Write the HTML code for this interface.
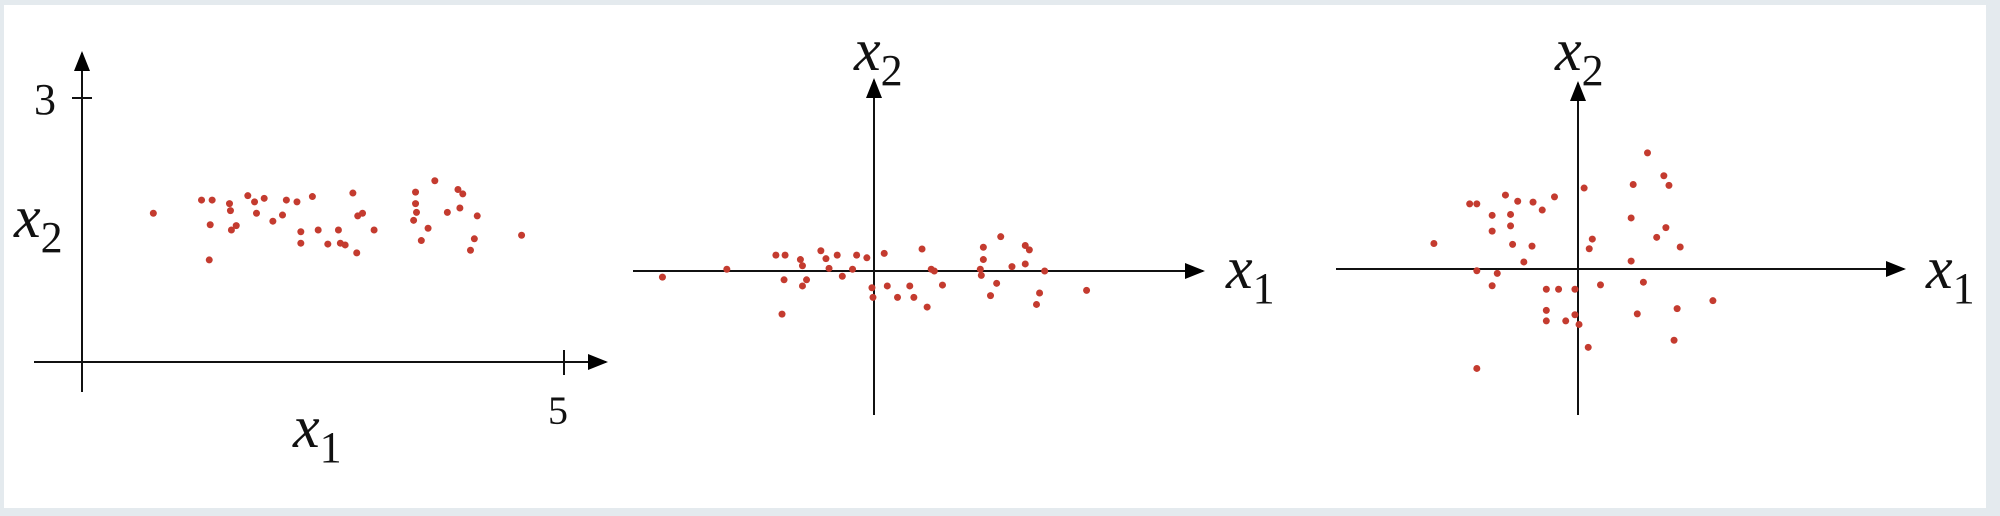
<!DOCTYPE html>
<html><head><meta charset="utf-8"><style>
html,body{margin:0;padding:0;background:#e6ecef;}
svg{display:block;}
text{font-family:"Liberation Serif",serif;fill:#111;}
</style></head><body>
<svg id="chart" width="2000" height="516" xmlns="http://www.w3.org/2000/svg">
<rect x="0" y="0" width="2000" height="516" fill="#e4eaee"/>
<rect x="4" y="5" width="1982" height="503" fill="#ffffff"/>
<defs><marker id="arr" markerWidth="20" markerHeight="16" refX="18" refY="8" orient="auto" markerUnits="userSpaceOnUse" viewBox="0 0 20 16"><path d="M0,0 L20,8 L0,16 z" fill="#000"/></marker></defs>
<g id="p1"></g>
<g id="p2"></g>
<g id="p3"></g>
</svg>
<script>
// Panel 1: raw data (x1 in 0..5, x2 in 0..3)
const p1X = [0.74,1.24,1.35,1.53,1.54,1.33,1.32,1.55,1.60,1.72,1.79,1.81,1.89,1.98,2.08,2.12,2.23,2.39,2.27,2.27,2.45,2.55,2.66,2.68,2.73,2.85,2.81,2.86,2.91,3.03,3.46,3.46,3.47,3.44,3.59,3.52,3.66,3.90,3.95,3.79,3.92,4.10,4.07,4.03,4.56];
const p1Y = [1.69,1.84,1.84,1.80,1.72,1.56,1.16,1.50,1.55,1.89,1.82,1.69,1.86,1.60,1.67,1.84,1.82,1.88,1.48,1.35,1.50,1.34,1.50,1.35,1.33,1.24,1.92,1.66,1.69,1.50,1.93,1.80,1.70,1.61,1.52,1.38,2.06,1.96,1.91,1.70,1.75,1.66,1.40,1.27,1.44];
// Panel 2: mean subtracted
const p2X = [-2.07,-1.44,-0.96,-0.87,-0.88,-0.90,-0.72,-0.70,-0.66,-0.70,-0.52,-0.47,-0.44,-0.36,-0.31,-0.21,-0.17,-0.07,0.10,-0.02,-0.01,0.13,0.23,0.35,0.39,0.52,0.47,0.56,0.59,0.67,1.07,1.07,1.05,1.04,1.20,1.14,1.24,1.48,1.52,1.35,1.48,1.67,1.62,1.59,2.08];
const p2Y = [-0.07,0.02,0.18,0.18,-0.10,-0.49,0.13,0.06,-0.10,-0.17,0.23,0.14,0.03,0.18,-0.06,0.02,0.18,0.15,0.20,-0.19,-0.30,-0.17,-0.30,-0.17,-0.30,-0.41,0.25,0.02,0.00,-0.16,0.27,0.13,-0.05,0.02,-0.14,-0.28,0.39,0.29,0.24,0.05,0.08,0.00,-0.25,-0.38,-0.22];
// Panel 3: variance normalized
const p3X = [-1.41,-1.06,-0.99,-0.71,-0.59,-0.44,-0.35,-0.23,-0.84,-0.66,-0.66,-0.84,-0.64,-0.45,-0.53,-0.99,-0.79,-0.84,-0.31,-0.19,-0.03,-0.31,-0.31,-0.12,-0.03,0.01,0.10,-0.99,0.06,0.14,0.11,0.22,0.52,0.64,0.58,0.52,0.54,0.68,0.84,0.89,0.86,0.77,1.00,0.97,0.94,1.32];
const p3Y = [0.29,0.74,0.74,0.84,0.77,0.76,0.67,0.82,0.61,0.62,0.49,0.43,0.28,0.26,0.08,-0.02,-0.05,-0.19,-0.23,-0.23,-0.23,-0.47,-0.59,-0.59,-0.52,-0.63,-0.89,-1.13,0.92,0.34,0.23,-0.18,0.09,-0.15,-0.51,0.58,0.96,1.32,1.06,0.95,0.47,0.36,0.25,-0.45,-0.81,-0.36];

const NS = "http://www.w3.org/2000/svg";
function mk(parent, tag, attrs, txt){
  const e = document.createElementNS(NS, tag);
  for (const k in attrs) e.setAttribute(k, attrs[k]);
  if (txt !== undefined) e.textContent = txt;
  parent.appendChild(e);
  return e;
}
const UY = 88;
function line(g, x1,y1,x2,y2, arrow, name){
  const l = mk(g,'line',{x1:x1,y1:y1,x2:x2,y2:y2,stroke:'#111','stroke-width':2});
  if (arrow) l.setAttribute('marker-end','url(#arr)');
  
  
}
function label(g, x, y, main, sub, name){
  const t = mk(g,'text',{x:x,y:y,'font-size':60,'font-style':'italic'});
  
  
  mk(t,'tspan',{},main);
  mk(t,'tspan',{dy:15,'font-size':44,'font-style':'normal'},sub);
}
function dots(g, xs, ys, ox, oy, ux){
  const sx = v => ox + v*ux;
  const sy = v => oy - v*UY;
  for (let i=0;i<xs.length;i++){
    const c = mk(g,'circle',{cx:sx(xs[i]),cy:sy(ys[i]),r:3.5,fill:'#c43b2f'});
    
    
  }
}
// Panel 1
const g1 = document.getElementById('p1');
line(g1, 82,392, 82,53, true, 'y-axis');
line(g1, 34,362, 606,362, true, 'x-axis');
line(g1, 72,98, 92,98, false, 'y-tick-3');
line(g1, 564,350, 564,375, false, 'x-tick-5');
const t3 = mk(g1,'text',{x:34,y:114,'font-size':44,'font-family':'Liberation Sans, sans-serif'},'3');


const t5 = mk(g1,'text',{x:548,y:424,'font-size':40,'font-family':'Liberation Sans, sans-serif'},'5');


label(g1, 14, 237, 'x', '2', 'y-axis-title');
label(g1, 293, 447, 'x', '1', 'x-axis-title');
dots(g1, p1X, p1Y, 82, 362, 96.4);
// Panel 2
const g2 = document.getElementById('p2');
line(g2, 874,415, 874,80, true, 'y-axis');
line(g2, 633,271, 1203,271, true, 'x-axis');
label(g2, 854, 70, 'x', '2', 'y-axis-title');
label(g2, 1226, 288, 'x', '1', 'x-axis-title');
dots(g2, p2X, p2Y, 874, 271, 102.2);
// Panel 3
const g3 = document.getElementById('p3');
line(g3, 1578,415, 1578,83, true, 'y-axis');
line(g3, 1336,269, 1904,269, true, 'x-axis');
label(g3, 1555, 70, 'x', '2', 'y-axis-title');
label(g3, 1926, 288, 'x', '1', 'x-axis-title');
dots(g3, p3X, p3Y, 1578, 269, 102.2);
</script>
</body></html>
